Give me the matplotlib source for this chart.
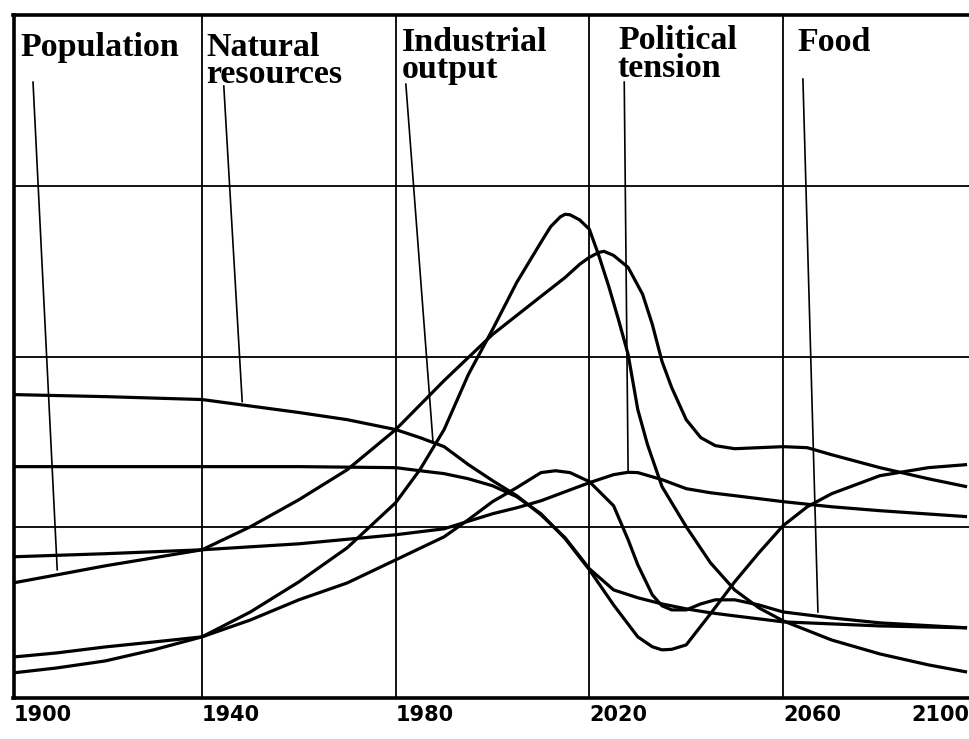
import matplotlib
matplotlib.use('Agg')
import matplotlib.pyplot as plt

# years (x axis), values in grid units (y axis, 0..4)
res_years = [1901, 1920, 1940, 1960, 1970, 1980, 1985, 1990, 1995, 2000, 2005, 2010, 2015, 2020,
             2025, 2030, 2035, 2040, 2045, 2050, 2060, 2070, 2080, 2098]
res_vals = [1.777, 1.765, 1.748, 1.672, 1.63, 1.572, 1.525, 1.472, 1.367, 1.273, 1.185, 1.073, 0.938, 0.757,
            0.633, 0.587, 0.551, 0.522, 0.499, 0.481, 0.446, 0.434, 0.422, 0.411]

# unlabelled curve: flat, falls with resources, dips and recovers
other_years = [1901, 1940, 1960, 1980, 1985, 1990, 1995, 2000, 2005, 2010, 2015, 2020, 2025, 2030,
               2033, 2035, 2037, 2040, 2045, 2050, 2055, 2060, 2065, 2070, 2080, 2090, 2098]
other_vals = [1.355, 1.355, 1.355, 1.349, 1.331, 1.314, 1.284, 1.243, 1.179, 1.079, 0.933, 0.751, 0.545, 0.358,
              0.3, 0.282, 0.285, 0.311, 0.493, 0.68, 0.85, 1.009, 1.12, 1.196, 1.302, 1.349, 1.367]

tension_years = [1901, 1920, 1940, 1960, 1980, 1990, 2000, 2005, 2010, 2015, 2020, 2025, 2028, 2030, 2035,
                 2040, 2045, 2050, 2060, 2070, 2080, 2098]
tension_vals = [0.827, 0.845, 0.868, 0.903, 0.956, 0.991, 1.079, 1.114, 1.155, 1.208, 1.261, 1.308, 1.322, 1.32, 1.279,
                1.226, 1.202, 1.185, 1.15, 1.12, 1.097, 1.062]

pop_years = [1901, 1910, 1920, 1930, 1940, 1950, 1960, 1970, 1980, 1990, 2000, 2010, 2015, 2018, 2020, 2022,
             2023, 2025, 2028, 2031, 2033, 2035, 2037, 2040, 2043, 2046, 2050, 2055, 2060, 2065, 2070, 2080,
             2090, 2098]
pop_vals = [0.674, 0.721, 0.774, 0.821, 0.868, 1.003, 1.161, 1.337, 1.572, 1.859, 2.129, 2.352, 2.463, 2.54, 2.581,
            2.61, 2.616, 2.592, 2.522, 2.364, 2.188, 1.971, 1.818, 1.63, 1.525, 1.478, 1.46, 1.466, 1.472, 1.466,
            1.425, 1.349, 1.284, 1.237]

food_years = [1901, 1910, 1920, 1930, 1940, 1950, 1960, 1970, 1980, 1990, 1995, 2000, 2005, 2010, 2013,
              2016, 2020, 2025, 2028, 2030, 2033, 2035, 2037, 2040, 2043, 2046, 2050, 2055, 2060, 2070,
              2080, 2098]
food_vals = [0.24, 0.264, 0.299, 0.328, 0.358, 0.457, 0.575, 0.674, 0.809, 0.944, 1.044, 1.15, 1.232, 1.32, 1.331,
             1.32, 1.267, 1.126, 0.927, 0.78, 0.604, 0.54, 0.516, 0.516, 0.551, 0.575, 0.575, 0.545, 0.504, 0.469,
             0.44, 0.411]

ind_years = [1901, 1910, 1920, 1930, 1940, 1950, 1960, 1970, 1980, 1985, 1990, 1995, 2000, 2005, 2010,
             2012, 2014, 2015, 2016, 2018, 2020, 2022, 2024, 2026, 2028, 2030, 2032, 2035, 2040, 2045, 2050,
             2055, 2060, 2070, 2080, 2090, 2098]
ind_vals = [0.147, 0.176, 0.217, 0.282, 0.358, 0.504, 0.68, 0.88, 1.144, 1.337, 1.572, 1.894, 2.158, 2.434, 2.669,
            2.76, 2.818, 2.833, 2.83, 2.8, 2.745, 2.587, 2.411, 2.217, 2.012, 1.689, 1.484, 1.238, 1.003, 0.792,
            0.633, 0.528, 0.452, 0.34, 0.258, 0.194, 0.152]

# header labels: text, (year, value) of the top-left corner, leader line (top point, curve point)
labels = ["Population", "Natural\nresources", "Industrial\noutput", "Political\ntension", "Food"]
label_pos = [(1902.6, 3.9), (1940.9, 3.9), (1981.3, 3.93), (2025.9, 3.94), (2062.9, 3.93)]
leader_top = [(1905.1, 3.607), (1944.5, 3.584), (1982.1, 3.595), (2027.2, 3.607), (2064.1, 3.625)]
leader_end = [(1910.1, 0.751), (1948.3, 1.736), (1987.7, 1.501), (2028.0, 1.326), (2067.2, 0.504)]

tick_pos = [1901.07, 1940, 1980, 2020, 2060, 2098.4]
tick_labels = ["1900", "1940", "1980", "2020", "2060", "2100"]

fig = plt.figure(figsize=(9.69, 7.39), dpi=100)
ax = fig.add_axes([13.5 / 969, 41 / 739, 955.5 / 969, 683 / 739])
ax.set_xlim(1901.07, 2098.4)
ax.set_ylim(0, 4)

for x in tick_pos[1:-1]:
    ax.axvline(x, color='black', lw=1.3, zorder=1)
for y in [1, 2, 3]:
    ax.axhline(y, color='black', lw=1.3, zorder=1)

series = [(res_years, res_vals), (other_years, other_vals), (tension_years, tension_vals),
          (pop_years, pop_vals), (food_years, food_vals), (ind_years, ind_vals)]
for xs, ys in series:
    ax.plot(xs, ys, color='black', lw=2.3, solid_joinstyle='round', solid_capstyle='butt', zorder=3)

for (lx, ly), (tx, ty), (ex, ey), text in zip(label_pos, leader_top, leader_end, labels):
    ax.text(lx, ly, text, ha='left', va='top', fontsize=24.5, fontweight='bold',
            family='Liberation Serif', linespacing=0.85, zorder=4)
    ax.plot([tx, ex], [ty, ey], color='black', lw=1.2, zorder=2)

for side in ['left', 'top', 'bottom']:
    ax.spines[side].set_linewidth(2.6)
ax.spines['right'].set_visible(False)

ax.set_yticks([])
ax.set_xticks(tick_pos)
ax.set_xticklabels(tick_labels, fontsize=15, fontweight='bold', family='DejaVu Sans')
ax.tick_params(axis='x', length=0, pad=5)
for i, lab in enumerate(ax.get_xticklabels()):
    lab.set_ha('right' if i == len(tick_pos) - 1 else 'left')

fig.savefig("out.png", dpi=100, facecolor='white')
